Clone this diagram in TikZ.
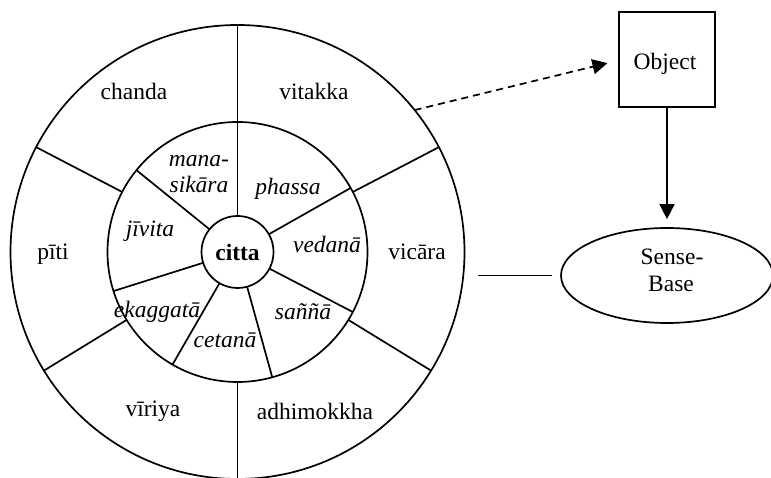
\documentclass[tikz,border=0pt]{standalone}
\usepackage{fontspec}
\setmainfont{Liberation Serif}
\usetikzlibrary{arrows.meta,shapes.geometric,calc}
\begin{document}
\begin{tikzpicture}[x=1pt,y=1pt,line width=1.7pt,
  lbl/.style={anchor=base,inner sep=0pt,font=\fontsize{23.5}{26}\selectfont},
  ilbl/.style={lbl,font=\fontsize{23.5}{26}\selectfont\itshape},
  tip/.style={-{Triangle[length=15pt,width=15pt]}}]
\useasboundingbox (0,0) rectangle (771,478);
\coordinate (O) at (237.5,226);
% circles
\draw (O) circle (227);
\draw (O) circle (130);
\node[circle,draw,minimum size=72pt,inner sep=0pt] (citta) at (O) {};
% outer dividers
\foreach \a in {90,152.5,211.5,270,328.5,27.5}
  \draw ($(O)+(\a:130)$) -- ($(O)+(\a:227)$);
% inner dividers
\foreach \a in {90,141,197.5,240,285.5,332.5,29.5}
  \draw ($(O)+(\a:36)$) -- ($(O)+(\a:130)$);
% outer labels
\node[lbl] (chanda) at (134,378) {chanda};
\node[lbl] (vitakka) at (314,378) {vitakka};
\node[lbl] (piti) at (53,218) {pīti};
\node[lbl] (vicara) at (417,218) {vicāra};
\node[lbl] (viriya) at (153,61) {vīriya};
\node[lbl] (adhimokkha) at (315,58) {adhimokkha};
% inner labels
\node[ilbl] (mana1) at (199,311) {mana-};
\node[ilbl] (mana2) at (199,285) {sikāra};
\node[ilbl] (phassa) at (288,283) {phassa};
\node[ilbl] (jivita) at (150,241) {jīvita};
\node[ilbl] (vedana) at (327,225) {vedanā};
\node[ilbl] (ekaggata) at (157,160) {ekaggatā};
\node[ilbl] (cetana) at (225,130) {cetanā};
\node[ilbl] (sanna) at (303,158) {saññā};
\node[lbl,font=\fontsize{23.5}{26}\selectfont\bfseries] (cittatxt) at (237.5,217) {citta};
% right side
\node[draw,minimum width=96pt,minimum height=95pt,inner sep=0pt] (obj) at (667,418.5) {};
\node[lbl] (objtxt) at ($(obj.center)+(-2,-10.5)$) {Object};
\node[ellipse,draw,minimum width=212pt,minimum height=95pt,inner sep=0pt] (sb) at (667,202.5) {};
\node[lbl] (sb1) at (672,213) {Sense-};
\node[lbl] (sb2) at (671,186) {Base};
% connectors
\coordinate (dstart) at ($(O)+(38.7:227)$);
\draw[tip,dash pattern=on 7pt off 5pt] (dstart) -- ([yshift=-1pt]obj.west) [shorten >=11pt];
\draw[tip,shorten >=8pt] (obj.south) -- (sb.north);
\coordinate (lstart) at (478,202.5);
\draw[shorten >=8pt] (lstart) -- (sb.west);
\end{tikzpicture}
\end{document}
